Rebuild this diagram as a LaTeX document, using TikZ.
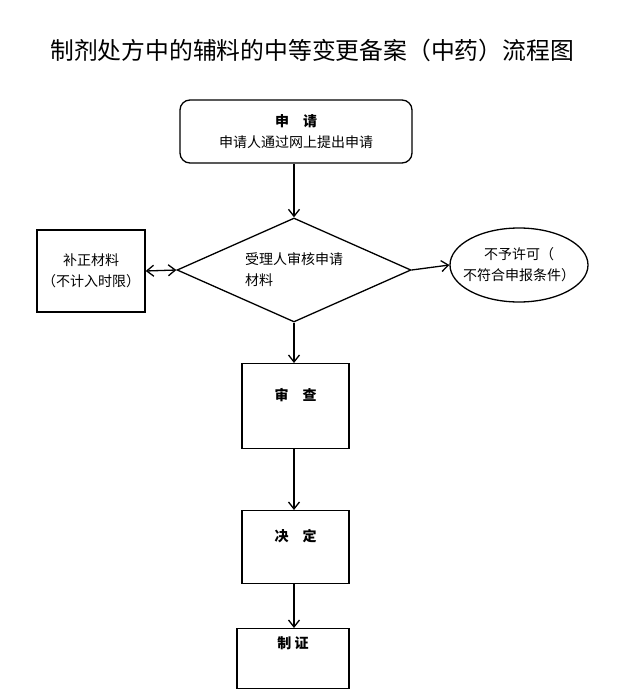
\documentclass[tikz,border=0pt]{standalone}
\usepackage{fontspec}
\newfontfamily\cjk{Noto Sans CJK SC}
\usetikzlibrary{shapes.geometric, arrows.meta, positioning}

\begin{document}
\begin{tikzpicture}[
  x=1pt, y=-1pt,
  font=\cjk\fontsize{14}{21}\selectfont,
  line width=1.3pt,
  startbox/.style={rectangle, draw, rounded corners=10pt, minimum width=232pt, minimum height=63pt, align=center, inner sep=0pt},
  decision/.style={diamond, draw, aspect=2.25, minimum width=234pt, minimum height=104pt, align=left, inner sep=0pt},
  sidebox/.style={rectangle, draw, minimum width=108pt, minimum height=82pt, align=center, inner sep=0pt},
  endstate/.style={ellipse, draw, minimum width=138pt, minimum height=74pt, align=center, inner xsep=-10pt, inner ysep=0pt},
  stagebox/.style={rectangle, draw, anchor=north, inner ysep=0pt, inner xsep=0pt, font=\cjk\bfseries\fontsize{14}{21}\selectfont},
  arrow/.style={-{Straight Barb[length=7pt, width=11pt]}},
  twoway/.style={{Straight Barb[length=7pt, width=11pt]}-{Straight Barb[length=7pt, width=11pt]}}
]
\useasboundingbox (0,0) rectangle (624,693);

% Nodes
\node[font=\cjk\fontsize{23.8}{28}\selectfont] (title) at (312,50) {制剂处方中的辅料的中等变更备案（中药）流程图};
\node[startbox] (apply) at (296,131.5) {{\bfseries 申　请}\\申请人通过网上提出申请};
\node[decision] (check) at (294,270) {受理人审核申请\\材料};
\node[sidebox] (supplement) at (91,271) {补正材料\\（不计入时限）};
\node[endstate] (refuse) at (519,265) {不予许可（\\不符合申报条件）};
\node[stagebox, minimum width=107pt, text height=37pt, text depth=48pt] (review) at (295.5,363) {审　查};
\node[stagebox, minimum width=107pt, text height=31pt, text depth=42pt] (decide) at (295.5,510) {决　定};
\node[stagebox, minimum width=112pt, text height=20pt, text depth=40pt] (issue) at (293,628) {制 证};

% Arrows
\draw[arrow] (apply.south -| check.north) -- (check.north);
\draw[twoway] (supplement.east) -- (check.west);
\draw[arrow] (check.east) -- (refuse.west);
\draw[arrow] (check.south) -- (check.south |- review.north);
\draw[arrow] (check.south |- review.south) -- (check.south |- decide.north);
\draw[arrow] (check.south |- decide.south) -- (check.south |- issue.north);

\end{tikzpicture}
\end{document}
